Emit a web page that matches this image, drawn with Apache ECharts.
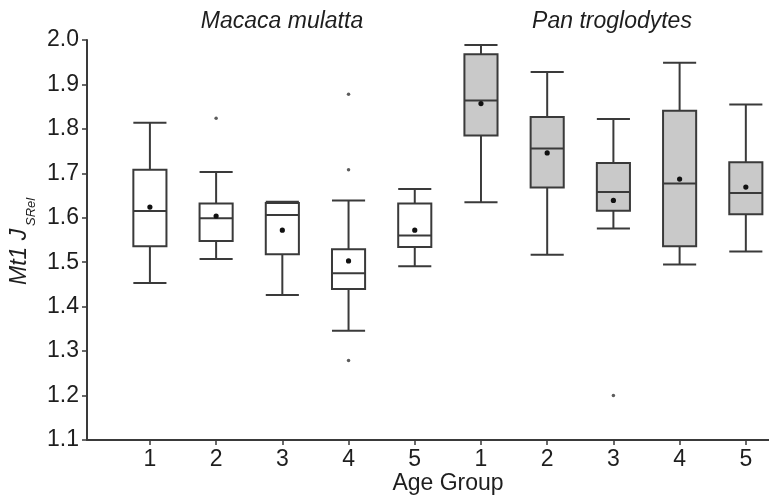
<!DOCTYPE html>
<html>
<head>
<meta charset="utf-8">
<script src="https://cdn.jsdelivr.net/npm/echarts@6/dist/echarts.min.js"></script>
<style>
  html, body { margin: 0; padding: 0; background: #fff; }
  #chart { width: 769px; height: 497px; }
</style>
</head>
<body>
<div id="chart"></div>
<script>
// age groups, 1-5 for each species
var groupLabels = ['1', '2', '3', '4', '5', '1', '2', '3', '4', '5'];
var groupSpecies = ['Macaca mulatta', 'Macaca mulatta', 'Macaca mulatta', 'Macaca mulatta', 'Macaca mulatta',
  'Pan troglodytes', 'Pan troglodytes', 'Pan troglodytes', 'Pan troglodytes', 'Pan troglodytes'];
var whiskerLow = [1.453, 1.507, 1.426, 1.346, 1.491, 1.635, 1.517, 1.576, 1.495, 1.524];
var q1 = [1.536, 1.548, 1.518, 1.440, 1.534, 1.785, 1.668, 1.616, 1.536, 1.608];
var median = [1.615, 1.599, 1.606, 1.475, 1.560, 1.864, 1.756, 1.658, 1.677, 1.656];
var q3 = [1.708, 1.632, 1.633, 1.529, 1.632, 1.968, 1.827, 1.723, 1.841, 1.725];
var whiskerHigh = [1.814, 1.703, 1.636, 1.639, 1.665, 1.989, 1.928, 1.822, 1.949, 1.855];
var means = [1.624, 1.604, 1.572, 1.503, 1.572, 1.857, 1.746, 1.639, 1.687, 1.669];
// [group index, value]
var outliers = [[1, 1.824], [3, 1.878], [3, 1.708], [3, 1.279], [7, 1.200]];

var ink = '#1e1e1e';
var line = '#3a3a3a';
var font = '"Liberation Sans", Arial, sans-serif';

var boxData = groupLabels.map(function(g, i) {
  return [i + 1, whiskerLow[i], q1[i], median[i], q3[i], whiskerHigh[i], means[i]];
});
var outlierData = outliers.map(function(o) { return [o[0] + 1, o[1]]; });
var tickPos = groupLabels.map(function(g, i) { return i + 1; });

function renderBox(params, api) {
  var x = api.value(0);
  var i = params.dataIndex;
  var half = api.size([1, 0])[0] * 0.25;
  var pLow = api.coord([x, api.value(1)]);
  var pQ1 = api.coord([x, api.value(2)]);
  var pMed = api.coord([x, api.value(3)]);
  var pQ3 = api.coord([x, api.value(4)]);
  var pHigh = api.coord([x, api.value(5)]);
  var pMean = api.coord([x, api.value(6)]);
  var cx = pLow[0];
  var ls = { stroke: line, lineWidth: 2, fill: null };
  var fill = groupSpecies[i] === 'Pan troglodytes' ? '#c9c9c9' : '#ffffff';
  return {
    type: 'group',
    children: [
      { type: 'line', shape: { x1: cx, y1: pQ1[1], x2: cx, y2: pLow[1] }, style: ls },
      { type: 'line', shape: { x1: cx - half, y1: pLow[1], x2: cx + half, y2: pLow[1] }, style: ls },
      { type: 'line', shape: { x1: cx, y1: pQ3[1], x2: cx, y2: pHigh[1] }, style: ls },
      { type: 'line', shape: { x1: cx - half, y1: pHigh[1], x2: cx + half, y2: pHigh[1] }, style: ls },
      { type: 'rect', shape: { x: cx - half, y: pQ3[1], width: half * 2, height: pQ1[1] - pQ3[1] },
        style: { fill: fill, stroke: line, lineWidth: 2 } },
      { type: 'line', shape: { x1: cx - half, y1: pMed[1], x2: cx + half, y2: pMed[1] }, style: ls },
      { type: 'circle', shape: { cx: cx, cy: pMean[1], r: 2.6 }, style: { fill: '#111' } }
    ]
  };
}

var chart = echarts.init(document.getElementById('chart'), null, { renderer: 'canvas' });
chart.setOption({
  animation: false,
  backgroundColor: '#fff',
  grid: { left: 87, right: 0, top: 40, bottom: 57 },
  xAxis: {
    type: 'value',
    min: 0.05,
    max: 10.35,
    splitLine: { show: false },
    axisLine: { onZero: false, lineStyle: { color: line, width: 2 } },
    axisTick: { customValues: tickPos, length: 5, lineStyle: { color: line, width: 1.5 } },
    axisLabel: {
      customValues: tickPos,
      color: ink, fontSize: 23, fontFamily: font, margin: 8,
      formatter: function(v) { return groupLabels[Math.round(v) - 1] || ''; }
    }
  },
  yAxis: {
    type: 'value',
    min: 1.1,
    max: 2.0,
    interval: 0.1,
    splitLine: { show: false },
    axisLine: { show: true, lineStyle: { color: line, width: 2 } },
    axisTick: { show: true, length: 5, lineStyle: { color: line, width: 1.5 } },
    axisLabel: {
      color: ink, fontSize: 23, fontFamily: font, margin: 8,
      formatter: function(v) { return v.toFixed(1); }
    }
  },
  graphic: [
    { type: 'text', x: 282, y: 22, style: { text: 'Macaca mulatta', font: 'italic 23px ' + font, fill: ink, align: 'center', verticalAlign: 'middle' } },
    { type: 'text', x: 612, y: 22, style: { text: 'Pan troglodytes', font: 'italic 23px ' + font, fill: ink, align: 'center', verticalAlign: 'middle' } },
    { type: 'text', x: 448, y: 484, style: { text: 'Age Group', font: '23px ' + font, fill: ink, align: 'center', verticalAlign: 'middle' } },
    { type: 'text', x: 20, y: 285, rotation: Math.PI / 2,
      style: { text: 'Mt1 J', font: 'italic 23px ' + font, fill: ink, align: 'left', verticalAlign: 'middle' } },
    { type: 'text', x: 31, y: 226, rotation: Math.PI / 2,
      style: { text: 'SRel', font: 'italic 13px ' + font, fill: ink, align: 'left', verticalAlign: 'middle' } }
  ],
  series: [
    {
      type: 'custom',
      renderItem: renderBox,
      encode: { x: 0, y: [1, 2, 3, 4, 5, 6] },
      data: boxData,
      z: 2
    },
    {
      type: 'scatter',
      data: outlierData,
      symbol: 'circle',
      symbolSize: 3.5,
      itemStyle: { color: '#333' },
      z: 3
    }
  ]
});
window.addEventListener('resize', function() { chart.resize(); });
</script>
</body>
</html>
